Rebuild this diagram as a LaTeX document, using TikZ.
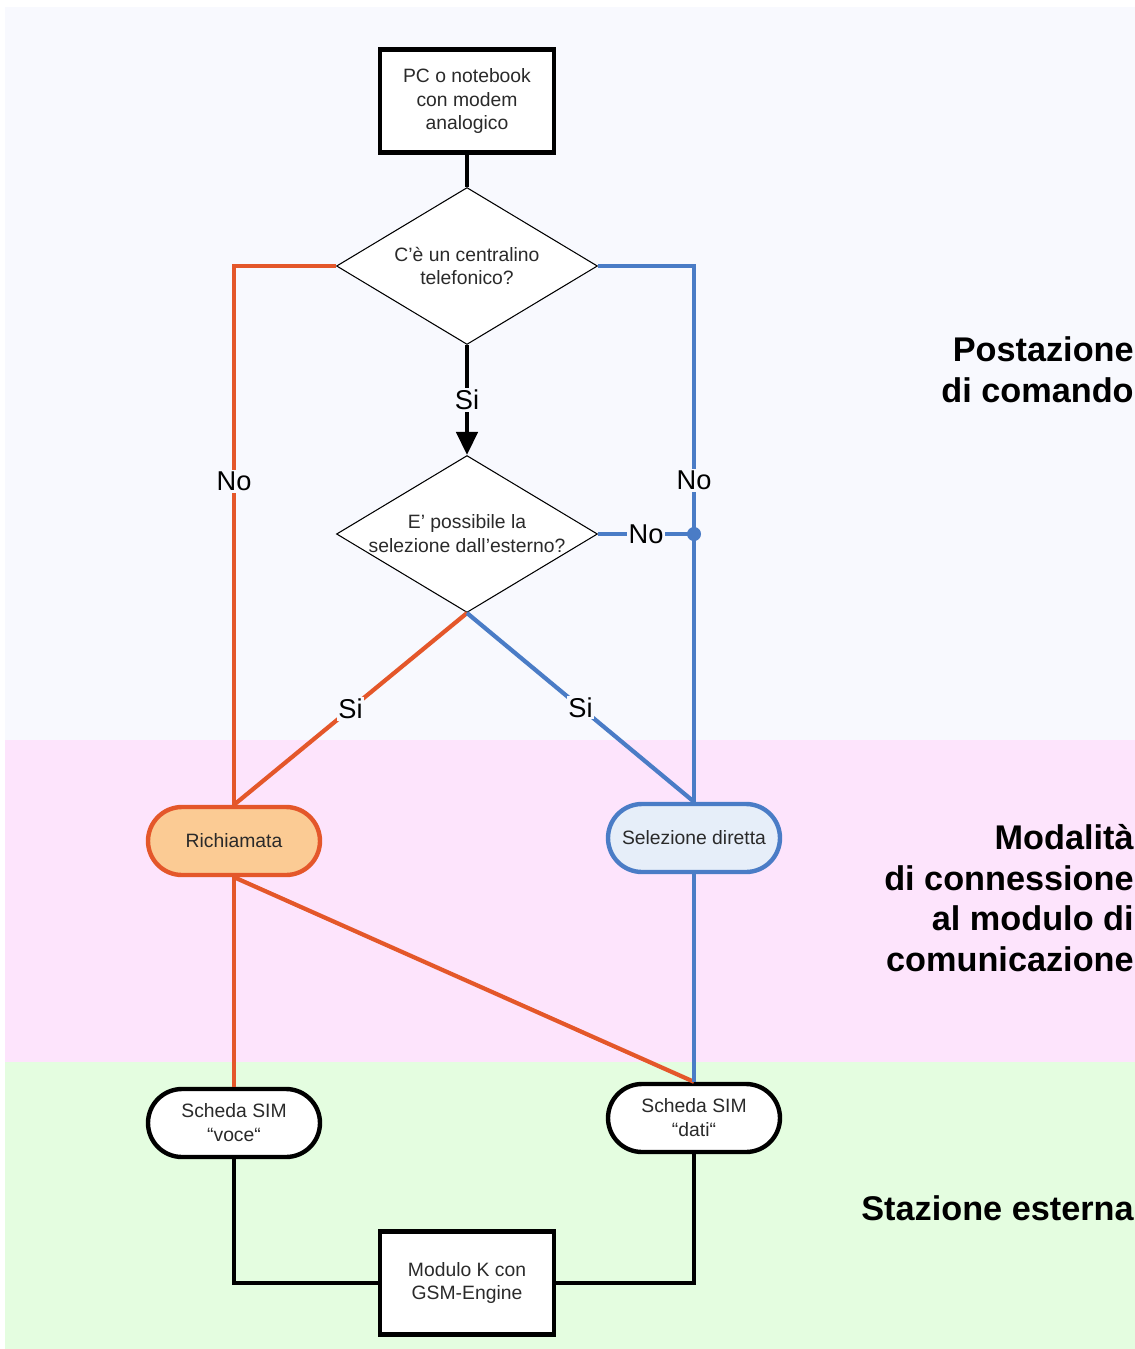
\documentclass[tikz,border=0pt]{standalone}
\usepackage{fontspec}
\setmainfont{Liberation Sans}
\usetikzlibrary{arrows.meta,shapes.geometric}

\definecolor{topbg}{HTML}{F8F9FE}
\definecolor{midbg}{HTML}{FDE4FC}
\definecolor{lowbg}{HTML}{E4FDE0}
\definecolor{orl}{HTML}{E4572A}
\definecolor{orfill}{HTML}{FBCB94}
\definecolor{bll}{HTML}{4A7CC6}
\definecolor{blfill}{HTML}{E6EEF9}
\definecolor{txtgrey}{HTML}{2A2A2A}

\begin{document}
\begin{tikzpicture}[x=0.02cm, y=-0.02cm,
  small/.style={font=\fontsize{11}{13.6}\selectfont, text=txtgrey},
  box/.style={draw, line width=2.5pt, fill=white, minimum width=3.48cm, minimum height=2.06cm, align=center, small},
  decision/.style={draw, diamond, fill=white, line width=0.6pt, minimum width=5.22cm, minimum height=3.14cm, inner sep=0pt},
  term/.style={draw, rounded corners=0.68cm, line width=2.5pt, minimum width=3.44cm, minimum height=1.36cm, align=center, small},
  lab/.style={font=\fontsize{15.5}{18}\selectfont, inner sep=1pt},
  zone/.style={font=\bfseries\fontsize{19.5}{23.2}\selectfont, align=right, anchor=east, inner sep=0pt},
  olink/.style={draw=orl, line width=2.4pt},
  blink/.style={draw=bll, line width=2.4pt},
  klink/.style={draw=black, line width=2.6pt}]

\useasboundingbox (0,0) rectangle (1135,1349);
\fill[white] (0,0) rectangle (1135,1349);
\fill[topbg] (5,7) rectangle (1135,740);
\fill[midbg] (5,740) rectangle (1135,1062);
\fill[lowbg] (5,1062) rectangle (1135,1349);

% nodes
\node[box] (pc) at (467,101) {PC o notebook\\con modem\\analogico};
\node[decision, label={[align=center, small]center:C’è un centralino\\telefonico?}] (q1) at (467,266) {};
\node[decision, label={[align=center, small]center:E’ possibile la\\selezione dall’esterno?}] (q2) at (467,534) {};
\node[term, draw=orl, fill=orfill] (rich) at (234,841) {Richiamata};
\node[term, draw=bll, fill=blfill] (sel) at (694,838) {Selezione diretta};
\node[term, fill=white] (voce) at (234,1123) {Scheda SIM\\“voce“};
\node[term, fill=white] (dati) at (694,1118) {Scheda SIM\\“dati“};
\node[box] (modk) at (467,1283) {Modulo K con\\GSM-Engine};
\coordinate (dot) at (694,534);

% connectors
\draw[klink] (pc) -- (q1);
\draw[klink, -{Triangle[length=0.46cm,width=0.42cm]}] (q1.south) -- node[lab, fill=topbg] {Si} (q2.north);
\draw[olink] (q1.west) -| node[lab, fill=topbg, pos=0.70] {No} (rich.north);
\draw[blink] (q1.east) -| node[lab, fill=topbg, pos=0.70] {No} (sel.north);
\draw[blink] (q2.east) -- node[lab, fill=topbg] {No} (dot);
\fill[bll] (dot) circle (0.14cm);
\draw[olink] (q2.south) -- node[lab, fill=topbg] {Si} (rich.north);
\draw[blink] (q2.south) -- node[lab, fill=topbg] {Si} (sel.north);
\draw[olink] (rich.south) -- (voce.north);
\draw[olink] (rich.south) -- (dati.north);
\draw[blink] (sel.south) -- (dati.north);
\draw[klink] (voce.south) |- (modk.west);
\draw[klink] (dati.south) |- (modk.east);

% zones
\node[zone] (zcmd) at (1134,370) {Postazione\\di comando};
\node[zone] (zmod) at (1134,898) {Modalità\\di connessione\\al modulo di\\comunicazione};
\node[zone] (zext) at (1134,1208) {Stazione esterna};
\end{tikzpicture}
\end{document}
